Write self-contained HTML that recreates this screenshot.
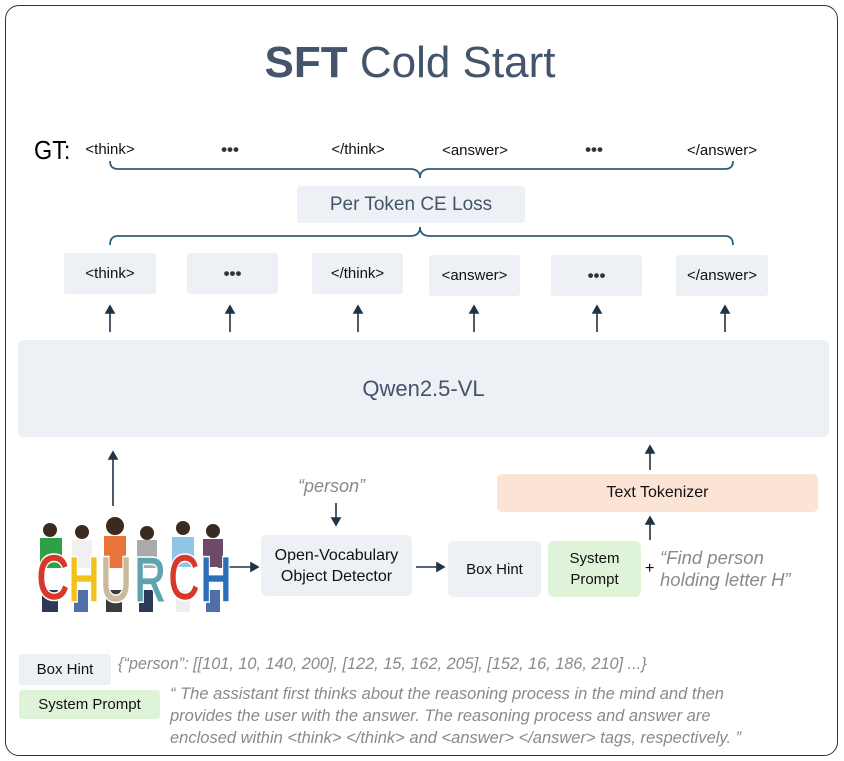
<!DOCTYPE html>
<html><head><meta charset="utf-8"><style>
body{margin:0;width:844px;height:761px;background:#fff;position:relative;overflow:hidden;font-family:"Liberation Sans",sans-serif}
.a{position:absolute}
.box{position:absolute;background:#edf0f5;display:flex;align-items:center;justify-content:center;text-align:center;color:#111;border-radius:3px}
.t{position:absolute;transform:translateX(-50%);font-size:15px;color:#111;white-space:nowrap}
.it{font-style:italic;color:#8a8a8a}
.d{font-size:17px;font-weight:bold;color:#333}
</style></head><body>
<div class="a" style="left:5px;top:5px;width:831px;height:749px;border:1.6px solid #333;border-radius:14px"></div>
<div class="a" style="left:0;width:820px;top:38px;text-align:center;font-size:44px;color:#44546a"><b>SFT</b> Cold Start</div>
<div class="a" style="left:34px;top:135px;font-size:26px;color:#000;transform:scaleX(0.9);transform-origin:left">GT:</div>
<div class="t" style="left:110px;top:141px">&lt;think&gt;</div>
<div class="t d" style="left:230px;top:140px">•••</div>
<div class="t" style="left:358px;top:141px">&lt;/think&gt;</div>
<div class="t" style="left:475px;top:142px">&lt;answer&gt;</div>
<div class="t d" style="left:594px;top:140px">•••</div>
<div class="t" style="left:722px;top:142px">&lt;/answer&gt;</div>
<svg class="a" style="left:0;top:0" width="844" height="761">
<g fill="none" stroke="#2e5f7c" stroke-width="1.8">
<path d="M110 161 Q110 169 118 169 L410 169 Q420 169 420 178 Q420 169 430 169 L725 169 Q733 169 733 161"/>
<path d="M110 245 Q110 236 118 236 L410 236 Q420 236 420 227 Q420 236 430 236 L725 236 Q733 236 733 245"/>
</g>
<g stroke="#1f3346" stroke-width="1.6" fill="#1f3346">
<line x1="110" y1="332" x2="110" y2="312"/><path d="M106 313 L110 306 L114 313Z"/>
<line x1="230" y1="332" x2="230" y2="312"/><path d="M226 313 L230 306 L234 313Z"/>
<line x1="358" y1="332" x2="358" y2="312"/><path d="M354 313 L358 306 L362 313Z"/>
<line x1="474" y1="332" x2="474" y2="312"/><path d="M470 313 L474 306 L478 313Z"/>
<line x1="597" y1="332" x2="597" y2="312"/><path d="M593 313 L597 306 L601 313Z"/>
<line x1="725" y1="332" x2="725" y2="312"/><path d="M721 313 L725 306 L729 313Z"/>
<line x1="113" y1="506" x2="113" y2="458"/><path d="M109 459 L113 452 L117 459Z"/>
<line x1="650" y1="470" x2="650" y2="452"/><path d="M646 453 L650 446 L654 453Z"/>
<line x1="650" y1="540" x2="650" y2="523"/><path d="M646 524 L650 517 L654 524Z"/>
<line x1="336" y1="503" x2="336" y2="519"/><path d="M332 518 L336 525 L340 518Z"/>
<line x1="218" y1="567" x2="252" y2="567"/><path d="M251 563 L258 567 L251 571Z"/>
<line x1="416" y1="567" x2="438" y2="567"/><path d="M437 563 L444 567 L437 571Z"/>
</g>
<g>
<g fill="#3b2a20"><circle cx="50" cy="530" r="7"/><circle cx="82" cy="532" r="7"/><circle cx="115" cy="526" r="9"/><circle cx="147" cy="533" r="7"/><circle cx="183" cy="528" r="7"/><circle cx="213" cy="531" r="7"/></g>
<rect x="40" y="538" width="22" height="30" fill="#2fa046"/>
<rect x="72" y="540" width="20" height="28" fill="#f0f0f0"/>
<rect x="104" y="536" width="22" height="32" fill="#e8743a"/>
<rect x="137" y="540" width="20" height="28" fill="#aaa"/>
<rect x="172" y="537" width="22" height="30" fill="#8fc6e6"/>
<rect x="203" y="539" width="20" height="28" fill="#6b4a6a"/>
<g fill="#2d3a55"><rect x="42" y="590" width="16" height="22"/><rect x="74" y="590" width="14" height="22" fill="#4e6fa8"/><rect x="106" y="590" width="16" height="22" fill="#3b3b3b"/><rect x="139" y="590" width="14" height="22"/><rect x="176" y="590" width="14" height="22" fill="#eee"/><rect x="206" y="590" width="14" height="22" fill="#4e6fa8"/></g>
<g font-family="Liberation Sans" font-weight="bold" font-size="66" stroke="#fff" stroke-width="1.5">
<text x="36" y="600" fill="#d8382c" textLength="34" lengthAdjust="spacingAndGlyphs">C</text>
<text x="68" y="602" fill="#f2c21b" textLength="32" lengthAdjust="spacingAndGlyphs">H</text>
<text x="100" y="602" fill="#c9bb9a" textLength="32" lengthAdjust="spacingAndGlyphs">U</text>
<text x="134" y="602" fill="#5ea4b0" textLength="32" lengthAdjust="spacingAndGlyphs">R</text>
<text x="168" y="600" fill="#d8382c" textLength="32" lengthAdjust="spacingAndGlyphs">C</text>
<text x="200" y="602" fill="#2c6fb9" textLength="32" lengthAdjust="spacingAndGlyphs">H</text>
</g>
</g>
</svg>
<div class="box" style="left:297px;top:186px;width:228px;height:37px;font-size:19px;color:#44546a">Per Token CE Loss</div>
<div class="box" style="left:64px;top:253px;width:92px;height:41px;font-size:15px">&lt;think&gt;</div>
<div class="box d" style="left:187px;top:253px;width:91px;height:41px">•••</div>
<div class="box" style="left:312px;top:253px;width:91px;height:41px;font-size:15px">&lt;/think&gt;</div>
<div class="box" style="left:429px;top:255px;width:91px;height:41px;font-size:15px">&lt;answer&gt;</div>
<div class="box d" style="left:551px;top:255px;width:91px;height:41px">•••</div>
<div class="box" style="left:676px;top:255px;width:92px;height:41px;font-size:15px">&lt;/answer&gt;</div>
<div class="box" style="left:18px;top:340px;width:811px;height:97px;font-size:22px;color:#44546a;border-radius:5px">Qwen2.5-VL</div>
<div class="box" style="left:497px;top:474px;width:321px;height:38px;background:#fbe3d6;font-size:16px;border-radius:5px">Text Tokenizer</div>
<div class="a it" style="left:298px;top:476px;font-size:18px">“person”</div>
<div class="box" style="left:261px;top:535px;width:151px;height:61px;font-size:16px;line-height:21px;border-radius:5px">Open-Vocabulary<br>Object Detector</div>
<div class="box" style="left:448px;top:541px;width:93px;height:56px;font-size:15px;border-radius:6px">Box Hint</div>
<div class="box" style="left:548px;top:541px;width:93px;height:56px;background:#dff3d8;font-size:15px;line-height:21px;border-radius:6px">System<br>Prompt</div>
<div class="a" style="left:645px;top:560px;font-size:16px">+</div>
<div class="a it" style="left:660px;top:547px;font-size:18.5px;line-height:22px">“Find person<br>holding letter H”</div>
<div class="box" style="left:19px;top:654px;width:92px;height:31px;font-size:15px">Box Hint</div>
<div class="box" style="left:19px;top:690px;width:141px;height:29px;background:#dff3d8;font-size:15px">System Prompt</div>
<div class="a it" style="left:118px;top:655px;font-size:16.3px;white-space:nowrap">{“person”: [[101, 10, 140, 200], [122, 15, 162, 205], [152, 16, 186, 210] ...}</div>
<div class="a it" style="left:170px;top:683px;font-size:16.5px;line-height:22px;white-space:nowrap">“ The assistant first thinks about the reasoning process in the mind and then<br>provides the user with the answer. The reasoning process and answer are<br>enclosed within &lt;think&gt; &lt;/think&gt; and &lt;answer&gt; &lt;/answer&gt; tags, respectively. ”</div>
</body></html>
